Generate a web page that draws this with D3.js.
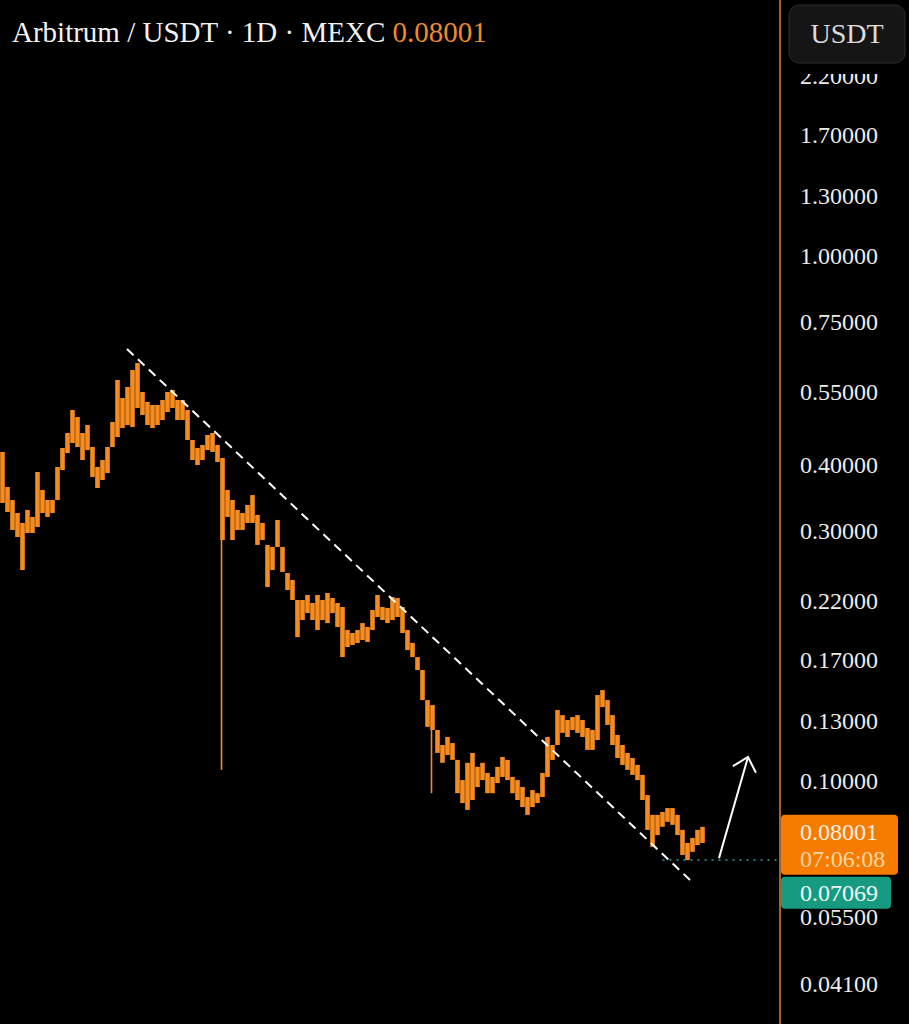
<!DOCTYPE html>
<html lang="en">
<head>
<meta charset="UTF-8"/>
<title>Arbitrum / USDT 1D</title>
<script src="https://d3js.org/d3.v7.min.js"></script>
<style>
  html, body { margin: 0; padding: 0; background: #000; }
  svg { display: block; }
</style>
</head>
<body>
<script>
var w = 909, h = 1024;
var axisX = 780;
var serif = "'Liberation Serif', 'DejaVu Serif', serif";

// range of each daily bar (USDT), oldest first
var highs = [0.4233, 0.3631, 0.3430, 0.3240, 0.3101, 0.3283, 0.3184, 0.3878, 0.3583, 0.3430,
             0.3430, 0.3964, 0.4308, 0.4601, 0.5089, 0.4935, 0.4601, 0.4765, 0.4327, 0.3964,
             0.4087, 0.4327, 0.4829, 0.5805, 0.5364, 0.5630, 0.6065, 0.6254, 0.5508, 0.5272,
             0.5203, 0.5203, 0.5318, 0.5508, 0.5556, 0.5318, 0.5318, 0.5089, 0.4462, 0.4308,
             0.4365, 0.4561, 0.4601, 0.4365, 0.4123, 0.3583, 0.3430, 0.3283, 0.3240, 0.3356,
             0.3505, 0.3212, 0.3101, 0.2816, 0.2791, 0.3142, 0.2791, 0.2490, 0.2415, 0.2212,
             0.2212, 0.2261, 0.2183, 0.2261, 0.2212, 0.2281, 0.2231, 0.2183, 0.2145, 0.1939,
             0.1914, 0.1939, 0.1999, 0.1965, 0.2117, 0.2261, 0.2145, 0.2136, 0.2241, 0.2231,
             0.2145, 0.1939, 0.1832, 0.1722, 0.1627, 0.1426, 0.1395, 0.1251, 0.1171, 0.1213,
             0.1181, 0.1097, 0.1004, 0.1083, 0.1131, 0.1064, 0.1083, 0.1036, 0.1018, 0.1064,
             0.1111, 0.1097, 0.1018, 0.1004, 0.0974, 0.0932, 0.0961, 0.0948, 0.1036, 0.1213,
             0.1171, 0.1365, 0.1335, 0.1307, 0.1324, 0.1335, 0.1307, 0.1262, 0.1251, 0.1458,
             0.1490, 0.1426, 0.1335, 0.1224, 0.1171, 0.1131, 0.1106, 0.1073, 0.1027, 0.0940,
             0.0862, 0.0862, 0.0873, 0.0888, 0.0888, 0.0862, 0.0807, 0.0762, 0.0779, 0.0807,
             0.0818];
var lows  = [0.3385, 0.3254, 0.3007, 0.2916, 0.2523, 0.2968, 0.2968, 0.3047, 0.3240, 0.3184,
             0.3240, 0.3430, 0.3912, 0.4214, 0.4404, 0.4327, 0.4087, 0.4270, 0.3794, 0.3615,
             0.3744, 0.3861, 0.4327, 0.4521, 0.4703, 0.4765, 0.4724, 0.5135, 0.4979, 0.4765,
             0.4703, 0.4765, 0.4871, 0.5045, 0.5135, 0.4871, 0.4871, 0.4462, 0.4087, 0.3998,
             0.4087, 0.4270, 0.4233, 0.4051, 0.2878, 0.3184, 0.2878, 0.3007, 0.3007, 0.3101,
             0.3101, 0.2816, 0.2878, 0.2342, 0.2523, 0.2791, 0.2501, 0.2311, 0.2212, 0.1880,
             0.2026, 0.2089, 0.2026, 0.1939, 0.2026, 0.1999, 0.2089, 0.1965, 0.1722, 0.1800,
             0.1816, 0.1832, 0.1856, 0.1840, 0.1939, 0.2053, 0.2026, 0.1999, 0.2026, 0.2053,
             0.1914, 0.1776, 0.1722, 0.1627, 0.1426, 0.1268, 0.1251, 0.1131, 0.1083, 0.1121,
             0.1097, 0.0948, 0.0908, 0.0881, 0.0920, 0.0974, 0.1004, 0.0948, 0.0948, 0.0991,
             0.1018, 0.1004, 0.0948, 0.0920, 0.0892, 0.0862, 0.0892, 0.0908, 0.0932, 0.1018,
             0.1097, 0.1171, 0.1235, 0.1213, 0.1251, 0.1235, 0.1213, 0.1146, 0.1146, 0.1197,
             0.1383, 0.1279, 0.1171, 0.1106, 0.1073, 0.1050, 0.1027, 0.1004, 0.0920, 0.0807,
             0.0749, 0.0789, 0.0818, 0.0836, 0.0825, 0.0789, 0.0723, 0.0707, 0.0733, 0.0755,
             0.0762];

// two long lower wicks
var spikeIdx = [44, 86];
var spikeLow = [0.105, 0.0948];

var lastPrice = 0.08001, countdown = "07:06:08", lowPrice = 0.07069;
var tickVals = [2.2, 1.7, 1.3, 1.0, 0.75, 0.55, 0.40, 0.30, 0.22, 0.17, 0.13, 0.10, 0.055, 0.041];

// hand drawn trend line and arrow (bar index, price)
var trendIdx = [24.9, 137.5], trendPrice = [0.665, 0.0648];
var arrowIdx = [143.3, 149.1], arrowPrice = [0.0713, 0.1111];

var orange = "#f68b1f";

var xScale = d3.scaleLinear().domain([0, 140]).range([2.5, 702.5]);
var yScale = d3.scaleLog().domain([0.1, 1]).range([781, 256]);

var svg = d3.select("body").append("svg")
    .attr("width", w)
    .attr("height", h)
    .style("background", "#000");

var defs = svg.append("defs");
defs.append("marker")
    .attr("id", "head")
    .attr("markerUnits", "userSpaceOnUse")
    .attr("viewBox", "-20 -20 40 40")
    .attr("markerWidth", 40).attr("markerHeight", 40)
    .attr("orient", "auto")
    .append("path")
    .attr("d", "M-13,-12 L0,0 L-13,12")
    .attr("fill", "none")
    .attr("stroke", "#fff")
    .attr("stroke-width", 2);

// bars
svg.append("g").selectAll("rect")
    .data(highs)
    .enter()
    .append("rect")
    .attr("x", function(d, i) { return xScale(i) - 2.3; })
    .attr("width", 4.6)
    .attr("y", function(d) { return yScale(d); })
    .attr("height", function(d, i) { return Math.max(1, yScale(lows[i]) - yScale(d)); })
    .attr("fill", orange);

svg.append("g").selectAll("line")
    .data(spikeIdx)
    .enter()
    .append("line")
    .attr("x1", function(d) { return xScale(d) - 1; })
    .attr("x2", function(d) { return xScale(d) - 1; })
    .attr("y1", function(d) { return yScale(lows[d]); })
    .attr("y2", function(d, i) { return yScale(spikeLow[i]); })
    .attr("stroke", orange)
    .attr("stroke-width", 1.6);

// trend line
svg.append("line")
    .attr("x1", xScale(trendIdx[0])).attr("y1", yScale(trendPrice[0]))
    .attr("x2", xScale(trendIdx[1])).attr("y2", yScale(trendPrice[1]))
    .attr("stroke", "#fff")
    .attr("stroke-width", 2)
    .attr("stroke-dasharray", "9,6");

// dotted line at the low
svg.append("line")
    .attr("x1", xScale(132)).attr("x2", axisX)
    .attr("y1", yScale(lowPrice)).attr("y2", yScale(lowPrice))
    .attr("stroke", "#26a69a")
    .attr("stroke-width", 1.5)
    .attr("stroke-dasharray", "2,5");

// arrow
svg.append("line")
    .attr("x1", xScale(arrowIdx[0])).attr("y1", yScale(arrowPrice[0]))
    .attr("x2", xScale(arrowIdx[1])).attr("y2", yScale(arrowPrice[1]))
    .attr("stroke", "#fff")
    .attr("stroke-width", 2)
    .attr("marker-end", "url(#head)");

// price axis
svg.append("line")
    .attr("x1", axisX).attr("x2", axisX)
    .attr("y1", 0).attr("y2", h)
    .attr("stroke", "#d9853a")
    .attr("stroke-width", 1.5);

var yAxis = d3.axisRight(yScale)
    .tickValues(tickVals)
    .tickFormat(d3.format(".5f"))
    .tickSize(0)
    .tickPadding(20);

var gAxis = svg.append("g")
    .attr("transform", "translate(" + axisX + ",0)")
    .call(yAxis);
gAxis.select(".domain").remove();
gAxis.selectAll("text")
    .attr("fill", "#ececec")
    .style("font-family", serif)
    .style("font-size", "24px");

// header cover + currency button
svg.append("rect")
    .attr("x", axisX + 1).attr("y", 0)
    .attr("width", w - axisX - 1).attr("height", 74)
    .attr("fill", "#000");
svg.append("rect")
    .attr("x", 789).attr("y", 5)
    .attr("width", 116).attr("height", 58)
    .attr("rx", 10)
    .attr("fill", "#151515")
    .attr("stroke", "#2c2c2c");
svg.append("text")
    .attr("x", 847).attr("y", 43)
    .attr("text-anchor", "middle")
    .attr("fill", "#dcdcdc")
    .style("font-family", serif)
    .style("font-size", "28px")
    .text("USDT");

// last price label
var yLast = yScale(lastPrice);
svg.append("rect")
    .attr("x", axisX + 1).attr("y", yLast - 17)
    .attr("width", 117).attr("height", 60)
    .attr("rx", 4)
    .attr("fill", "#f57c00");
svg.append("text")
    .attr("x", 800).attr("y", yLast)
    .attr("dy", "0.35em")
    .attr("fill", "#fff3e6")
    .style("font-family", serif)
    .style("font-size", "24px")
    .text(d3.format(".5f")(lastPrice));
svg.append("text")
    .attr("x", 800).attr("y", yLast + 27)
    .attr("dy", "0.35em")
    .attr("fill", "#ffd6a8")
    .style("font-family", serif)
    .style("font-size", "24px")
    .text(countdown);

// low label (pushed below the last price label)
svg.append("rect")
    .attr("x", axisX + 1).attr("y", yLast + 45)
    .attr("width", 110).attr("height", 32)
    .attr("rx", 4)
    .attr("fill", "#179b80");
svg.append("text")
    .attr("x", 800).attr("y", yLast + 61)
    .attr("dy", "0.35em")
    .attr("fill", "#f2fffb")
    .style("font-family", serif)
    .style("font-size", "24px")
    .text(d3.format(".5f")(lowPrice));

// title
var title = svg.append("text")
    .attr("x", 12).attr("y", 42)
    .style("font-family", serif)
    .style("font-size", "29px");
title.append("tspan").attr("fill", "#f2f2f2").text("Arbitrum / USDT \u00b7 1D \u00b7 MEXC ");
title.append("tspan").attr("fill", "#f08a2c").text(d3.format(".5f")(lastPrice));
</script>
</body>
</html>
